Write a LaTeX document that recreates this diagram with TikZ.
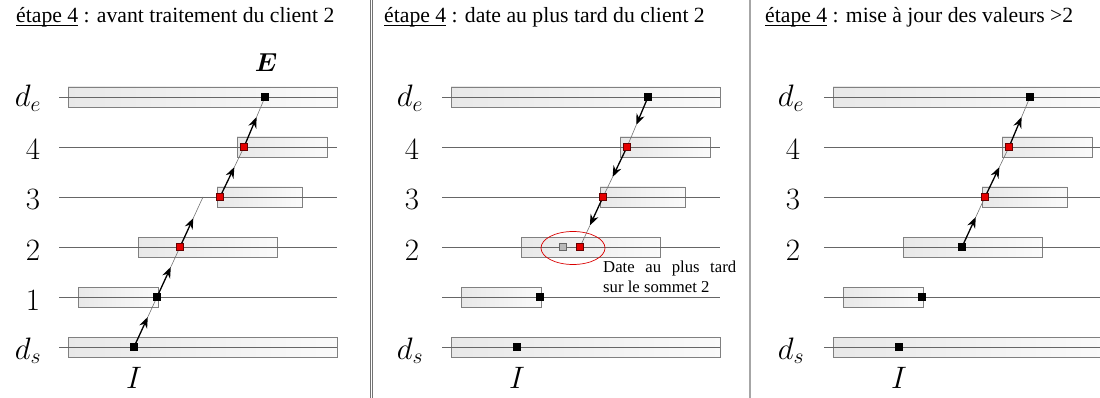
\RequirePackage{fix-cm}
\documentclass[tikz,border=0pt]{standalone}
\usepackage{amsmath}
\usepackage{bm}
\usepackage{fontspec}
\setmainfont{Liberation Serif}
\usetikzlibrary{arrows.meta,calc,backgrounds,shapes.geometric}
\newcommand\myul[1]{\sbox0{#1}\rlap{\rule[-2.5pt]{\wd0}{0.9pt}}\usebox0}
\newcommand\halfarrow[3][0.6]{%
  \draw[thk] (#2.center) -- ($(#2.center)!#1!(#3.center)$);
  \draw[thn] ($(#2.center)!#1!(#3.center)$) -- (#3.center);}
\newcommand\panelframe{%
  \begin{pgfonlayer}{background}
    \path[bar] (68,87) rectangle (337,107);
    \path[bar] (237,137) rectangle (327,157);
    \path[bar] (217,187) rectangle (302,207);
    \path[bar] (138,237) rectangle (277,257);
    \path[bar] (78,287) rectangle (158,307);
    \path[bar] (68,337) rectangle (337,357);
    \foreach \yy in {97,147,197,247,297,347} \draw[lvl] (59,\yy) -- (337,\yy);
  \end{pgfonlayer}}
\begin{document}
\begin{tikzpicture}[x=1pt,y=-1pt,
  lvl/.style={draw=black!60, line width=0.7pt},
  bar/.style={draw=black!50, line width=0.7pt, left color=black!9, right color=black!2},
  bpt/.style={rectangle, draw=black, fill=black, minimum size=7pt, inner sep=0pt, line width=0.4pt},
  rpt/.style={rectangle, draw=red!40!black, fill=red!90!black, minimum size=7pt, inner sep=0pt, line width=0.4pt},
  gpt/.style={rectangle, draw=black!60, fill=black!28, minimum size=7pt, inner sep=0pt, line width=0.5pt},
  thk/.style={draw=black, line width=1.3pt, -{Stealth[length=11pt,width=8.5pt]}},
  thn/.style={draw=black!55, line width=0.6pt},
  lab/.style={anchor=base, inner sep=0pt, font=\fontsize{31}{31}\selectfont},
  ttl/.style={anchor=base west, inner sep=0pt, font=\fontsize{21.7}{26}\selectfont},
  note/.style={anchor=base west, inner sep=0pt, font=\fontsize{16.7}{20}\selectfont}]
\useasboundingbox (0,0) rectangle (1100,398);
\clip (0,0) rectangle (1100,398);
% separators
\draw[black!55, line width=0.6pt] (369.8,0) -- (369.8,398);
\draw[black!55, line width=0.6pt] (372.2,0) -- (372.2,398);
\draw[black!35, line width=2pt] (749.5,0) -- (749.5,398);
% titles
\node[ttl] (t1) at (16,23) {\myul{étape 4} : avant traitement du client 2};
\node[ttl] (t2) at (384,23) {\myul{étape 4} : date au plus tard du client 2};
\node[ttl] (t3) at (765,23) {\myul{étape 4} : mise à jour des valeurs >2};
% ---------- panel 1
\begin{scope}
\panelframe
\node[lab] (a-lde) at (28,107) {$d_e$};
\node[lab] (a-l4) at (33,160) {$4$};
\node[lab] (a-l3) at (33,210) {$3$};
\node[lab] (a-l2) at (33,260) {$2$};
\node[lab] (a-l1) at (33,310) {$1$};
\node[lab] (a-lds) at (28,359) {$d_s$};
\node[lab] (a-I) at (134,388) {$I$};
\node[anchor=base, inner sep=0pt, font=\fontsize{26}{26}\selectfont] (a-E) at (266,72) {$\bm{E}$};
\node[bpt] (a-ds) at (134,347) {};
\node[bpt] (a-1) at (157,297) {};
\node[rpt] (a-2) at (180,247) {};
\node[rpt] (a-3) at (220,197) {};
\node[rpt] (a-4) at (244,147) {};
\node[bpt] (a-de) at (265,97) {};
\coordinate (a-gap) at (203,197);
\begin{pgfonlayer}{background}
\halfarrow{a-ds}{a-1}
\halfarrow{a-1}{a-2}
\halfarrow[0.58]{a-2}{a-gap}
\halfarrow{a-3}{a-4}
\halfarrow{a-4}{a-de}
\end{pgfonlayer}
\end{scope}
% ---------- panel 2
\begin{scope}[xshift=383pt]
\panelframe
\node[lab] (b-lde) at (27,107) {$d_e$};
\node[lab] (b-l4) at (29,160) {$4$};
\node[lab] (b-l3) at (29,210) {$3$};
\node[lab] (b-l2) at (29,260) {$2$};
\node[lab] (b-lds) at (27,359) {$d_s$};
\node[lab] (b-I) at (134,388) {$I$};
\node[bpt] (b-ds) at (134,347) {};
\node[bpt] (b-1) at (157,297) {};
\node[gpt] (b-2old) at (180,247) {};
\node[rpt] (b-2) at (197,247) {};
\node[rpt] (b-3) at (220,197) {};
\node[rpt] (b-4) at (244,147) {};
\node[bpt] (b-de) at (265,97) {};
\node[ellipse, draw=red!85!black, line width=0.7pt, minimum width=64pt, minimum height=33pt, inner sep=0pt] (b-ell) at (190,248) {};
\node[note] (b-n1) at (220,272) {\makebox[133pt][s]{Date au plus tard}};
\node[note] (b-n2) at (220,292) {sur le sommet 2};
\begin{pgfonlayer}{background}
\halfarrow[0.56]{b-de}{b-4}
\halfarrow[0.6]{b-4}{b-3}
\halfarrow[0.57]{b-3}{b-2}
\end{pgfonlayer}
\end{scope}
% ---------- panel 3
\begin{scope}[xshift=765pt]
\panelframe
\node[lab] (c-lde) at (26,107) {$d_e$};
\node[lab] (c-l4) at (28,160) {$4$};
\node[lab] (c-l3) at (28,210) {$3$};
\node[lab] (c-l2) at (28,260) {$2$};
\node[lab] (c-lds) at (26,359) {$d_s$};
\node[lab] (c-I) at (134,388) {$I$};
\node[bpt] (c-ds) at (134,347) {};
\node[bpt] (c-1) at (157,297) {};
\node[bpt] (c-2) at (197,247) {};
\node[rpt] (c-3) at (220,197) {};
\node[rpt] (c-4) at (244,147) {};
\node[bpt] (c-de) at (265,97) {};
\begin{pgfonlayer}{background}
\halfarrow{c-2}{c-3}
\halfarrow{c-3}{c-4}
\halfarrow{c-4}{c-de}
\end{pgfonlayer}
\end{scope}
\end{tikzpicture}
\end{document}
